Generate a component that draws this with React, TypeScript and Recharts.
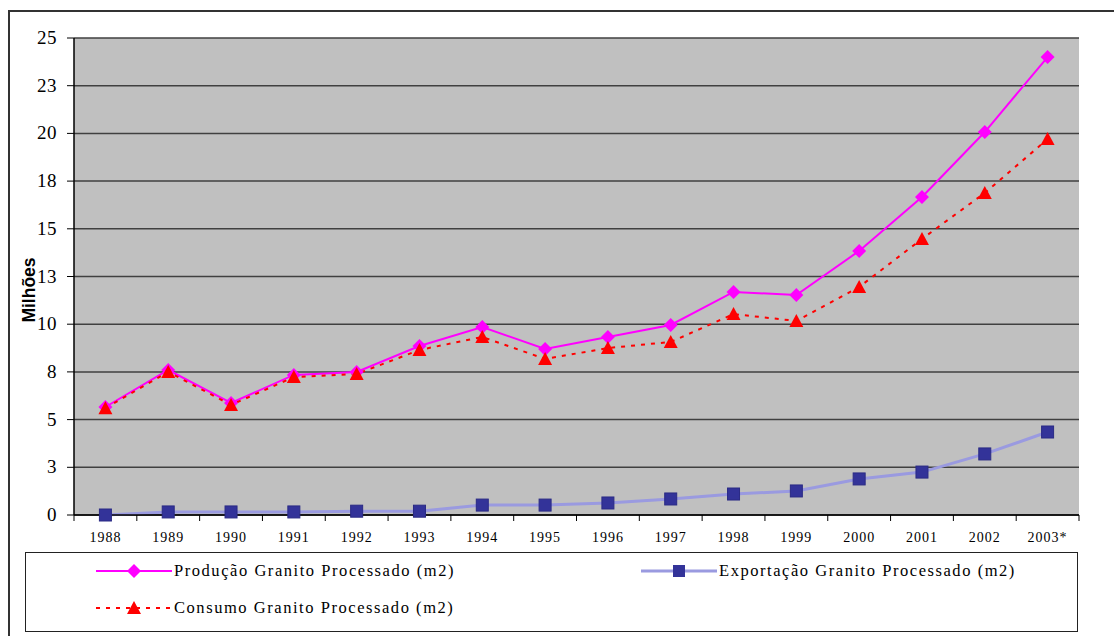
import { CartesianGrid, Line, LineChart, XAxis, YAxis } from 'recharts';

const years = ['1988', '1989', '1990', '1991', '1992', '1993', '1994', '1995', '1996', '1997', '1998', '1999', '2000', '2001', '2002', '2003*'];
const producao = [5.66, 7.6, 5.87, 7.34, 7.5, 8.86, 9.85, 8.7, 9.33, 9.96, 11.69, 11.53, 13.84, 16.67, 20.07, 24.0];
const exportacao = [0.0, 0.16, 0.16, 0.16, 0.2, 0.2, 0.52, 0.52, 0.63, 0.84, 1.1, 1.26, 1.89, 2.25, 3.2, 4.35];
const consumo = [5.6, 7.5, 5.77, 7.23, 7.39, 8.65, 9.33, 8.18, 8.75, 9.07, 10.53, 10.17, 11.95, 14.47, 16.88, 19.7];
const yTicks = [0, 2.5, 5, 7.5, 10, 12.5, 15, 17.5, 20, 22.5, 25];

const data = years.map((year, i) => ({
  year,
  producao: producao[i],
  exportacao: exportacao[i],
  consumo: consumo[i],
}));

const W = 1104;
const H = 624;
const margin = { top: 26, right: 35, left: 0, bottom: 91 };
const Y_AXIS_W = 64;
const X_AXIS_H = 30;
const plotLeft = margin.left + Y_AXIS_W;
const plotWidth = W - plotLeft - margin.right;
const plotBottom = H - margin.bottom - X_AXIS_H;
const band = plotWidth / years.length;

const serif = 'Liberation Serif, Tinos, Times New Roman, DejaVu Serif, serif';

function Diamond({ cx, cy, index }: any) {
  if (cx == null || cy == null) return null;
  return (
    <polygon
      key={`d${index}`}
      points={`${cx},${cy - 7} ${cx + 7},${cy} ${cx},${cy + 7} ${cx - 7},${cy}`}
      fill="#FF00FF"
    />
  );
}

function Triangle({ cx, cy, index }: any) {
  if (cx == null || cy == null) return null;
  return (
    <polygon
      key={`t${index}`}
      points={`${cx},${cy - 7} ${cx + 7},${cy + 6} ${cx - 7},${cy + 6}`}
      fill="#FF0000"
    />
  );
}

function Square({ cx, cy, index }: any) {
  if (cx == null || cy == null) return null;
  return (
    <rect key={`s${index}`} x={cx - 6} y={cy - 6} width={12} height={12} fill="#333399" stroke="#2a2a85" />
  );
}

function YearTick({ x, payload, index }: any) {
  const last = index === years.length - 1;
  return (
    <g>
      <line x1={x - band / 2} x2={x - band / 2} y1={plotBottom} y2={plotBottom + 6} stroke="#000" />
      {last && <line x1={x + band / 2} x2={x + band / 2} y1={plotBottom} y2={plotBottom + 6} stroke="#000" />}
      <text
        x={x}
        y={plotBottom + 27}
        textAnchor="middle"
        style={{ fontFamily: serif, fontSize: 14, letterSpacing: 1 }}
        fill="#000"
      >
        {payload.value}
      </text>
    </g>
  );
}

function YTick({ x, y, payload }: any) {
  return (
    <text
      x={x}
      y={y + 6}
      textAnchor="end"
      style={{ fontFamily: serif, fontSize: 19, letterSpacing: 0.5 }}
      fill="#000"
    >
      {String(Math.round(payload.value))}
    </text>
  );
}

function LegendItem({ label, color, dash, width, marker }: any) {
  return (
    <div style={{ display: 'flex', alignItems: 'center', height: 20 }}>
      <svg width={76} height={20}>
        <line x1={0} x2={76} y1={10} y2={10} stroke={color} strokeWidth={width} strokeDasharray={dash} />
        {marker}
      </svg>
      <span
        style={{
          fontFamily: serif,
          fontSize: 16.5,
          letterSpacing: 1.55,
          marginLeft: 2,
          whiteSpace: 'nowrap',
        }}
      >
        {label}
      </span>
    </div>
  );
}

export default function App() {
  return (
    <div
      style={{
        position: 'absolute',
        left: 8,
        top: 10,
        width: 1106,
        height: 626,
        borderLeft: '2px solid #333',
        borderTop: '2px solid #333',
        boxSizing: 'border-box',
        background: '#fff',
      }}
    >
      <LineChart width={W} height={H} data={data} margin={margin}>
        <CartesianGrid vertical={false} fill="#C0C0C0" stroke="#404040" strokeWidth={1.5} />
        <XAxis
          dataKey="year"
          scale="band"
          height={X_AXIS_H}
          axisLine={{ stroke: '#000', strokeWidth: 1.5 }}
          tickLine={false}
          tick={<YearTick />}
          interval={0}
        />
        <YAxis
          width={Y_AXIS_W}
          domain={[0, 25]}
          ticks={yTicks}
          axisLine={{ stroke: '#000', strokeWidth: 1.5 }}
          tickLine={{ stroke: '#000' }}
          tickSize={7}
          tickMargin={10}
          tick={<YTick />}
        />
        <YAxis
          yAxisId="right"
          orientation="right"
          width={0}
          domain={[0, 25]}
          tick={false}
          tickLine={false}
          axisLine={{ stroke: '#888', strokeWidth: 2.5 }}
        />
        <Line
          dataKey="producao"
          stroke="#FF00FF"
          strokeWidth={2}
          dot={<Diamond />}
          isAnimationActive={false}
        />
        <Line
          dataKey="exportacao"
          stroke="#9a9ae0"
          strokeWidth={3}
          dot={<Square />}
          isAnimationActive={false}
        />
        <Line
          dataKey="consumo"
          stroke="#FF0000"
          strokeWidth={2}
          strokeDasharray="4 6"
          dot={<Triangle />}
          isAnimationActive={false}
        />
      </LineChart>
      <div
        style={{
          position: 'absolute',
          left: 19,
          top: 28 + 250,
          transform: 'translate(-50%, -50%) rotate(-90deg)',
          fontFamily: 'Liberation Sans, Arial, sans-serif',
          fontWeight: 'bold',
          fontSize: 17.5,
          whiteSpace: 'nowrap',
        }}
      >
        Milhões
      </div>
      <div
        style={{
          position: 'absolute',
          left: 15,
          top: 540,
          width: 1053,
          height: 80,
          border: '1.5px solid #222',
          boxSizing: 'border-box',
        }}
      >
        <div style={{ position: 'absolute', left: 70, top: 8 }}>
          <LegendItem
            label="Produção Granito Processado (m2)"
            color="#FF00FF"
            width={2}
            marker={<polygon points="38,3 45,10 38,17 31,10" fill="#FF00FF" />}
          />
        </div>
        <div style={{ position: 'absolute', left: 615, top: 8 }}>
          <LegendItem
            label="Exportação Granito Processado (m2)"
            color="#9a9ae0"
            width={3}
            marker={<rect x={32} y={4} width={12} height={12} fill="#333399" />}
          />
        </div>
        <div style={{ position: 'absolute', left: 70, top: 45 }}>
          <LegendItem
            label="Consumo Granito Processado (m2)"
            color="#FF0000"
            width={2}
            dash="4 6"
            marker={<polygon points="38,3 45,16 31,16" fill="#FF0000" />}
          />
        </div>
      </div>
    </div>
  );
}
